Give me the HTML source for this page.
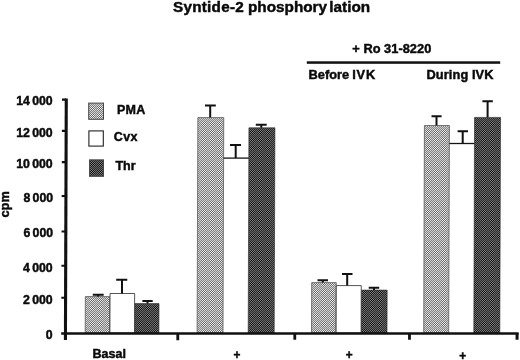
<!DOCTYPE html>
<html><head><meta charset="utf-8"><title>Syntide-2 phosphorylation</title>
<style>
html,body{margin:0;padding:0;background:#fff;}
body{width:520px;height:360px;overflow:hidden;}
svg{display:block;}
text{font-family:"Liberation Sans",Arial,Helvetica,sans-serif;font-weight:bold;fill:#0a0a0a;stroke:#0a0a0a;stroke-width:0.45px;}
</style></head><body>
<svg width="520" height="360" viewBox="0 0 520 360">
<defs>
<pattern id="pl" width="8" height="8" patternUnits="userSpaceOnUse">
<rect width="8" height="8" fill="#aaaaaa"/>
<rect x="0" y="0" width="1" height="1" fill="#c2c2c2"/>
<rect x="1" y="0" width="1" height="1" fill="#8e8e8e"/>
<rect x="2" y="0" width="1" height="1" fill="#cacaca"/>
<rect x="3" y="0" width="1" height="1" fill="#898989"/>
<rect x="4" y="0" width="1" height="1" fill="#cbcbcb"/>
<rect x="5" y="0" width="1" height="1" fill="#8a8a8a"/>
<rect x="6" y="0" width="1" height="1" fill="#c6c6c6"/>
<rect x="7" y="0" width="1" height="1" fill="#929292"/>
<rect x="0" y="1" width="1" height="1" fill="#8e8e8e"/>
<rect x="1" y="1" width="1" height="1" fill="#d3d3d3"/>
<rect x="2" y="1" width="1" height="1" fill="#777777"/>
<rect x="3" y="1" width="1" height="1" fill="#e2e2e2"/>
<rect x="4" y="1" width="1" height="1" fill="#727272"/>
<rect x="5" y="1" width="1" height="1" fill="#dddddd"/>
<rect x="6" y="1" width="1" height="1" fill="#818181"/>
<rect x="7" y="1" width="1" height="1" fill="#c6c6c6"/>
<rect x="0" y="2" width="1" height="1" fill="#cacaca"/>
<rect x="1" y="2" width="1" height="1" fill="#777777"/>
<rect x="2" y="2" width="1" height="1" fill="#ebebeb"/>
<rect x="3" y="2" width="1" height="1" fill="#616161"/>
<rect x="4" y="2" width="1" height="1" fill="#f3f3f3"/>
<rect x="5" y="2" width="1" height="1" fill="#696969"/>
<rect x="6" y="2" width="1" height="1" fill="#dddddd"/>
<rect x="7" y="2" width="1" height="1" fill="#8a8a8a"/>
<rect x="0" y="3" width="1" height="1" fill="#898989"/>
<rect x="1" y="3" width="1" height="1" fill="#e2e2e2"/>
<rect x="2" y="3" width="1" height="1" fill="#616161"/>
<rect x="3" y="3" width="1" height="1" fill="#fdfdfd"/>
<rect x="4" y="3" width="1" height="1" fill="#575757"/>
<rect x="5" y="3" width="1" height="1" fill="#f3f3f3"/>
<rect x="6" y="3" width="1" height="1" fill="#727272"/>
<rect x="7" y="3" width="1" height="1" fill="#cbcbcb"/>
<rect x="0" y="4" width="1" height="1" fill="#cbcbcb"/>
<rect x="1" y="4" width="1" height="1" fill="#727272"/>
<rect x="2" y="4" width="1" height="1" fill="#f3f3f3"/>
<rect x="3" y="4" width="1" height="1" fill="#575757"/>
<rect x="4" y="4" width="1" height="1" fill="#fdfdfd"/>
<rect x="5" y="4" width="1" height="1" fill="#616161"/>
<rect x="6" y="4" width="1" height="1" fill="#e2e2e2"/>
<rect x="7" y="4" width="1" height="1" fill="#898989"/>
<rect x="0" y="5" width="1" height="1" fill="#8a8a8a"/>
<rect x="1" y="5" width="1" height="1" fill="#dddddd"/>
<rect x="2" y="5" width="1" height="1" fill="#696969"/>
<rect x="3" y="5" width="1" height="1" fill="#f3f3f3"/>
<rect x="4" y="5" width="1" height="1" fill="#616161"/>
<rect x="5" y="5" width="1" height="1" fill="#ebebeb"/>
<rect x="6" y="5" width="1" height="1" fill="#777777"/>
<rect x="7" y="5" width="1" height="1" fill="#cacaca"/>
<rect x="0" y="6" width="1" height="1" fill="#c6c6c6"/>
<rect x="1" y="6" width="1" height="1" fill="#818181"/>
<rect x="2" y="6" width="1" height="1" fill="#dddddd"/>
<rect x="3" y="6" width="1" height="1" fill="#727272"/>
<rect x="4" y="6" width="1" height="1" fill="#e2e2e2"/>
<rect x="5" y="6" width="1" height="1" fill="#777777"/>
<rect x="6" y="6" width="1" height="1" fill="#d3d3d3"/>
<rect x="7" y="6" width="1" height="1" fill="#8e8e8e"/>
<rect x="0" y="7" width="1" height="1" fill="#929292"/>
<rect x="1" y="7" width="1" height="1" fill="#c6c6c6"/>
<rect x="2" y="7" width="1" height="1" fill="#8a8a8a"/>
<rect x="3" y="7" width="1" height="1" fill="#cbcbcb"/>
<rect x="4" y="7" width="1" height="1" fill="#898989"/>
<rect x="5" y="7" width="1" height="1" fill="#cacaca"/>
<rect x="6" y="7" width="1" height="1" fill="#8e8e8e"/>
<rect x="7" y="7" width="1" height="1" fill="#c2c2c2"/>
</pattern>
<pattern id="pd" width="8" height="8" patternUnits="userSpaceOnUse">
<rect width="8" height="8" fill="#484848"/>
<rect x="0" y="0" width="1" height="1" fill="#5c5c5c"/>
<rect x="1" y="0" width="1" height="1" fill="#303030"/>
<rect x="2" y="0" width="1" height="1" fill="#636363"/>
<rect x="3" y="0" width="1" height="1" fill="#2c2c2c"/>
<rect x="4" y="0" width="1" height="1" fill="#646464"/>
<rect x="5" y="0" width="1" height="1" fill="#2d2d2d"/>
<rect x="6" y="0" width="1" height="1" fill="#606060"/>
<rect x="7" y="0" width="1" height="1" fill="#343434"/>
<rect x="0" y="1" width="1" height="1" fill="#303030"/>
<rect x="1" y="1" width="1" height="1" fill="#6b6b6b"/>
<rect x="2" y="1" width="1" height="1" fill="#1d1d1d"/>
<rect x="3" y="1" width="1" height="1" fill="#777777"/>
<rect x="4" y="1" width="1" height="1" fill="#191919"/>
<rect x="5" y="1" width="1" height="1" fill="#737373"/>
<rect x="6" y="1" width="1" height="1" fill="#252525"/>
<rect x="7" y="1" width="1" height="1" fill="#606060"/>
<rect x="0" y="2" width="1" height="1" fill="#636363"/>
<rect x="1" y="2" width="1" height="1" fill="#1d1d1d"/>
<rect x="2" y="2" width="1" height="1" fill="#7f7f7f"/>
<rect x="3" y="2" width="1" height="1" fill="#0a0a0a"/>
<rect x="4" y="2" width="1" height="1" fill="#868686"/>
<rect x="5" y="2" width="1" height="1" fill="#111111"/>
<rect x="6" y="2" width="1" height="1" fill="#737373"/>
<rect x="7" y="2" width="1" height="1" fill="#2d2d2d"/>
<rect x="0" y="3" width="1" height="1" fill="#2c2c2c"/>
<rect x="1" y="3" width="1" height="1" fill="#777777"/>
<rect x="2" y="3" width="1" height="1" fill="#0a0a0a"/>
<rect x="3" y="3" width="1" height="1" fill="#8e8e8e"/>
<rect x="4" y="3" width="1" height="1" fill="#020202"/>
<rect x="5" y="3" width="1" height="1" fill="#868686"/>
<rect x="6" y="3" width="1" height="1" fill="#191919"/>
<rect x="7" y="3" width="1" height="1" fill="#646464"/>
<rect x="0" y="4" width="1" height="1" fill="#646464"/>
<rect x="1" y="4" width="1" height="1" fill="#191919"/>
<rect x="2" y="4" width="1" height="1" fill="#868686"/>
<rect x="3" y="4" width="1" height="1" fill="#020202"/>
<rect x="4" y="4" width="1" height="1" fill="#8e8e8e"/>
<rect x="5" y="4" width="1" height="1" fill="#0a0a0a"/>
<rect x="6" y="4" width="1" height="1" fill="#777777"/>
<rect x="7" y="4" width="1" height="1" fill="#2c2c2c"/>
<rect x="0" y="5" width="1" height="1" fill="#2d2d2d"/>
<rect x="1" y="5" width="1" height="1" fill="#737373"/>
<rect x="2" y="5" width="1" height="1" fill="#111111"/>
<rect x="3" y="5" width="1" height="1" fill="#868686"/>
<rect x="4" y="5" width="1" height="1" fill="#0a0a0a"/>
<rect x="5" y="5" width="1" height="1" fill="#7f7f7f"/>
<rect x="6" y="5" width="1" height="1" fill="#1d1d1d"/>
<rect x="7" y="5" width="1" height="1" fill="#636363"/>
<rect x="0" y="6" width="1" height="1" fill="#606060"/>
<rect x="1" y="6" width="1" height="1" fill="#252525"/>
<rect x="2" y="6" width="1" height="1" fill="#737373"/>
<rect x="3" y="6" width="1" height="1" fill="#191919"/>
<rect x="4" y="6" width="1" height="1" fill="#777777"/>
<rect x="5" y="6" width="1" height="1" fill="#1d1d1d"/>
<rect x="6" y="6" width="1" height="1" fill="#6b6b6b"/>
<rect x="7" y="6" width="1" height="1" fill="#303030"/>
<rect x="0" y="7" width="1" height="1" fill="#343434"/>
<rect x="1" y="7" width="1" height="1" fill="#606060"/>
<rect x="2" y="7" width="1" height="1" fill="#2d2d2d"/>
<rect x="3" y="7" width="1" height="1" fill="#646464"/>
<rect x="4" y="7" width="1" height="1" fill="#2c2c2c"/>
<rect x="5" y="7" width="1" height="1" fill="#636363"/>
<rect x="6" y="7" width="1" height="1" fill="#303030"/>
<rect x="7" y="7" width="1" height="1" fill="#5c5c5c"/>
</pattern>
</defs>
<rect width="520" height="360" fill="#fff"/>

<!-- title -->
<text y="12.3" font-size="15.3"><tspan x="173" letter-spacing="0.24">Syntide-2</tspan> <tspan x="248">phosphory</tspan><tspan x="329.3">lation</tspan></text>

<!-- header -->
<text x="352.3" y="53.4" font-size="12.8" textLength="79" lengthAdjust="spacing">+ Ro 31-8220</text>
<rect x="306.8" y="61.3" width="193.4" height="2.5" fill="#111"/>
<text y="78.8" font-size="12.8"><tspan x="308.6">Before</tspan> <tspan x="352.2" textLength="23" lengthAdjust="spacing">IVK</tspan></text>
<text x="426.5" y="78.5" font-size="12.8" textLength="67" lengthAdjust="spacing">During IVK</text>

<!-- y labels -->
<g font-size="12.3" text-anchor="end">
<text x="52.7" y="105.0">14<tspan dx="2.3">000</tspan></text>
<text x="52.7" y="136.8">12<tspan dx="2.3">000</tspan></text>
<text x="52.7" y="167.7">10<tspan dx="2.3">000</tspan></text>
<text x="53.1" y="202.0">8<tspan dx="2.3">000</tspan></text>
<text x="53.1" y="237.4">6<tspan dx="2.3">000</tspan></text>
<text x="52.7" y="271.5">4<tspan dx="2.3">000</tspan></text>
<text x="52.7" y="303.6">2<tspan dx="2.3">000</tspan></text>
<text x="52.7" y="338.6">0</text>
</g>
<text transform="translate(8.8,217.5) rotate(-90)" font-size="12.8">cpm</text>

<!-- legend -->
<rect x="88.7" y="103.1" width="14.8" height="16.2" fill="url(#pl)" stroke="#484848" stroke-width="1"/>
<rect x="88.9" y="130.9" width="14.4" height="15.2" fill="#fff" stroke="#222" stroke-width="1.1"/>
<rect x="89.4" y="159.8" width="14.3" height="16.6" fill="url(#pd)" stroke="#222" stroke-width="0.6"/>
<g font-size="12.5">
<text x="117" y="114.2" textLength="28.3" lengthAdjust="spacing">PMA</text>
<text x="113.8" y="140.6" textLength="23.6" lengthAdjust="spacing">Cvx</text>
<text x="115.4" y="170.3">Thr</text>
</g>

<!-- bars -->
<g>
<polygon points="85.33,296.60 109.83,296.60 109.70,333.00 85.20,333.00" fill="url(#pl)" stroke="#5a5a5a" stroke-width="0.8"/>
<polygon points="134.60,303.60 159.00,303.60 158.90,333.00 134.50,333.00" fill="url(#pd)" stroke="#222" stroke-width="0.6"/>
<polygon points="110.04,293.50 134.64,293.50 134.50,333.00 109.90,333.00" fill="#fff" stroke="#2a2a2a" stroke-width="0.8"/>
<polygon points="223.61,158.00 249.01,158.00 248.40,333.00 223.00,333.00" fill="#fff"/>
<polygon points="197.85,117.60 223.75,117.60 223.00,333.00 197.10,333.00" fill="url(#pl)" stroke="#5a5a5a" stroke-width="0.8"/>
<polygon points="248.92,127.80 274.92,127.80 274.20,333.00 248.20,333.00" fill="url(#pd)" stroke="#222" stroke-width="0.6"/>
<polygon points="311.68,282.60 336.28,282.60 336.10,333.00 311.50,333.00" fill="url(#pl)" stroke="#5a5a5a" stroke-width="0.8"/>
<polygon points="361.25,290.10 387.15,290.10 387.00,333.00 361.10,333.00" fill="url(#pd)" stroke="#222" stroke-width="0.6"/>
<polygon points="336.27,285.60 361.27,285.60 361.10,333.00 336.10,333.00" fill="#fff" stroke="#2a2a2a" stroke-width="0.8"/>
<polygon points="449.36,143.40 474.46,143.40 473.80,333.00 448.70,333.00" fill="#fff"/>
<polygon points="424.43,125.50 449.43,125.50 448.70,333.00 423.70,333.00" fill="url(#pl)" stroke="#5a5a5a" stroke-width="0.8"/>
<polygon points="474.55,117.40 500.55,117.40 499.80,333.00 473.80,333.00" fill="url(#pd)" stroke="#222" stroke-width="0.6"/>
<path d="M223.61,158.10H248.81" stroke="#151515" stroke-width="1.3" fill="none"/>
<path d="M449.36,143.50H474.46" stroke="#151515" stroke-width="1.3" fill="none"/>
</g>

<!-- error bars -->
<g stroke="#111" stroke-width="2" fill="none">
<path d="M98,296.6V294.8M92.8,294.8H103.7"/>
<path d="M122,293.5V279.7M116.2,279.7H127.3"/>
<path d="M147.5,303.6V301.1M142.4,301.1H152.7"/>
<path d="M210.2,117.6V105.6M205,105.6H215.8"/>
<path d="M235.7,158V145.1M230,145.1H241"/>
<path d="M261.3,127.8V124.8M255.8,124.8H266.7"/>
<path d="M322.8,282.6V280.2M317.5,280.2H328"/>
<path d="M347.2,285.6V273.9M342,273.9H352.5"/>
<path d="M374,290.1V287.8M368.7,287.8H379.2"/>
<path d="M436.5,125.5V116.3M431.5,116.3H441.6"/>
<path d="M462.7,143.4V131.3M457.6,131.3H468"/>
<path d="M487.6,117.4V101.3M482.4,101.3H492.8"/>
</g>

<!-- axes -->
<g fill="#111">
<polygon points="64.72,98.60 67.82,98.60 66.98,340.00 63.88,340.00"/>
<polygon points="61.20,332.30 518.60,332.30 518.59,334.80 61.19,334.80"/>
<polygon points="62.02,98.60 66.02,98.60 66.01,100.70 62.01,100.70"/>
<polygon points="61.91,129.80 65.91,129.80 65.90,131.90 61.90,131.90"/>
<polygon points="61.80,161.10 65.80,161.10 65.79,163.20 61.79,163.20"/>
<polygon points="61.68,195.00 65.68,195.00 65.68,197.10 61.68,197.10"/>
<polygon points="61.56,230.40 65.56,230.40 65.55,232.50 61.55,232.50"/>
<polygon points="61.44,264.70 65.44,264.70 65.43,266.80 61.43,266.80"/>
<polygon points="61.33,296.70 65.33,296.70 65.32,298.80 61.32,298.80"/>
<polygon points="176.40,333.00 179.20,333.00 179.17,340.20 176.37,340.20"/>
<polygon points="293.40,333.00 296.20,333.00 296.18,339.70 293.38,339.70"/>
<polygon points="408.10,333.00 410.90,333.00 410.88,339.70 408.08,339.70"/>
<polygon points="515.60,333.00 518.60,333.00 518.58,339.80 515.58,339.80"/>
</g>

<!-- x labels -->
<g font-size="12.5">
<text x="92.5" y="357.6">Basal</text>
<text transform="translate(237,359.4) scale(1,1.12)" text-anchor="middle" font-size="11.8">+</text>
<text transform="translate(349.2,359.4) scale(1,1.12)" text-anchor="middle" font-size="11.8">+</text>
<text transform="translate(462.6,360) scale(1,1.12)" text-anchor="middle" font-size="11.8">+</text>
</g>
</svg>
</body></html>
